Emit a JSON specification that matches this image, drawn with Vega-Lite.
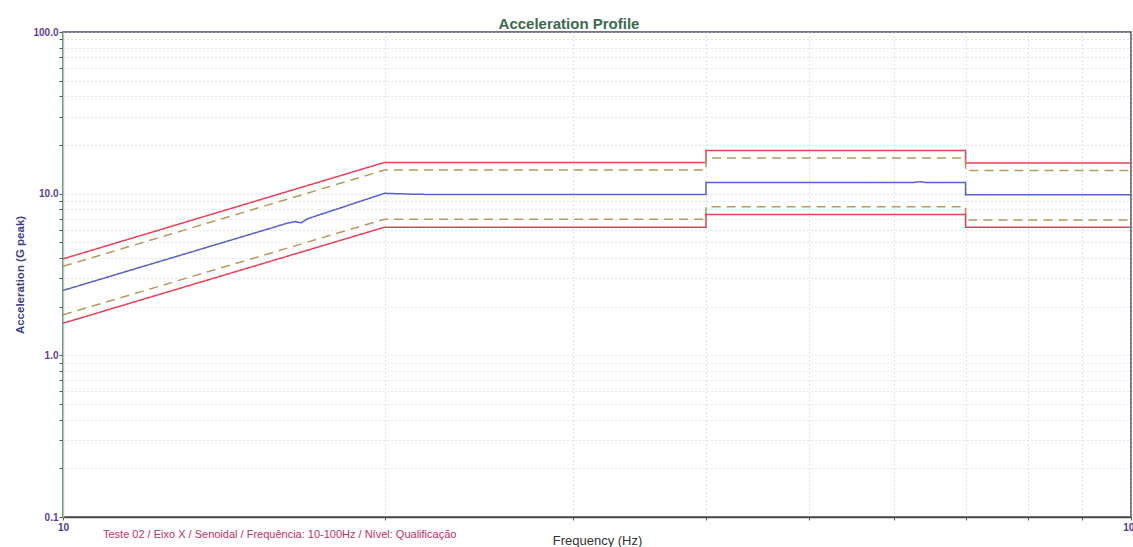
{
  "$schema": "https://vega.github.io/schema/vega-lite/v6.json",
  "width": 1068,
  "height": 485,
  "autosize": {"type": "none"},
  "padding": {"left": 63, "top": 32, "right": 2, "bottom": 30},
  "background": "#ffffff",
  "config": {
    "view": {"stroke": "#4a4a5a", "strokeWidth": 1.5},
    "font": "Liberation Sans"
  },
  "title": {
    "text": "Acceleration Profile",
    "font": "Liberation Sans",
    "fontSize": 15,
    "fontWeight": "bold",
    "color": "#3d6b4f",
    "dx": -28,
    "offset": -5,
    "frame": "group"
  },
  "layer": [
    {
      "data": {
        "values": [
          {"s": "Abort+", "i": 1, "f": 10, "g": 3.95},
          {"s": "Abort+", "i": 2, "f": 20, "g": 15.6},
          {"s": "Abort+", "i": 3, "f": 40, "g": 15.6},
          {"s": "Abort+", "i": 4, "f": 40, "g": 18.5},
          {"s": "Abort+", "i": 5, "f": 70, "g": 18.5},
          {"s": "Abort+", "i": 6, "f": 70, "g": 15.5},
          {"s": "Abort+", "i": 7, "f": 100, "g": 15.5},
          {"s": "Alarm+", "i": 1, "f": 10, "g": 3.55},
          {"s": "Alarm+", "i": 2, "f": 20, "g": 14.0},
          {"s": "Alarm+", "i": 3, "f": 40, "g": 14.0},
          {"s": "Alarm+", "i": 4, "f": 40, "g": 16.6},
          {"s": "Alarm+", "i": 5, "f": 70, "g": 16.6},
          {"s": "Alarm+", "i": 6, "f": 70, "g": 13.9},
          {"s": "Alarm+", "i": 7, "f": 100, "g": 13.9},
          {"s": "Control", "i": 1, "f": 10, "g": 2.52},
          {"s": "Control", "i": 2, "f": 16.2, "g": 6.55},
          {"s": "Control", "i": 3, "f": 16.5, "g": 6.72},
          {"s": "Control", "i": 4, "f": 16.7, "g": 6.6},
          {"s": "Control", "i": 5, "f": 16.95, "g": 7.0},
          {"s": "Control", "i": 6, "f": 20, "g": 10.05},
          {"s": "Control", "i": 7, "f": 21.5, "g": 9.9},
          {"s": "Control", "i": 8, "f": 40, "g": 9.88},
          {"s": "Control", "i": 9, "f": 40, "g": 11.72},
          {"s": "Control", "i": 10, "f": 62.5, "g": 11.72},
          {"s": "Control", "i": 11, "f": 63.4, "g": 11.85},
          {"s": "Control", "i": 12, "f": 64.3, "g": 11.72},
          {"s": "Control", "i": 13, "f": 70, "g": 11.72},
          {"s": "Control", "i": 14, "f": 70, "g": 9.86},
          {"s": "Control", "i": 15, "f": 100, "g": 9.86},
          {"s": "Alarm-", "i": 1, "f": 10, "g": 1.78},
          {"s": "Alarm-", "i": 2, "f": 20, "g": 6.95},
          {"s": "Alarm-", "i": 3, "f": 40, "g": 6.95},
          {"s": "Alarm-", "i": 4, "f": 40, "g": 8.3},
          {"s": "Alarm-", "i": 5, "f": 70, "g": 8.3},
          {"s": "Alarm-", "i": 6, "f": 70, "g": 6.88},
          {"s": "Alarm-", "i": 7, "f": 100, "g": 6.88},
          {"s": "Abort-", "i": 1, "f": 10, "g": 1.58},
          {"s": "Abort-", "i": 2, "f": 20, "g": 6.2},
          {"s": "Abort-", "i": 3, "f": 40, "g": 6.2},
          {"s": "Abort-", "i": 4, "f": 40, "g": 7.42},
          {"s": "Abort-", "i": 5, "f": 70, "g": 7.42},
          {"s": "Abort-", "i": 6, "f": 70, "g": 6.2},
          {"s": "Abort-", "i": 7, "f": 100, "g": 6.2}
        ]
      },
      "mark": {"type": "line", "strokeWidth": 1.5, "clip": true},
      "encoding": {
        "x": {
          "field": "f",
          "type": "quantitative",
          "scale": {"type": "log", "domain": [10, 100], "nice": false},
          "axis": {
            "title": "Frequency (Hz)",
            "values": [10, 20, 30, 40, 50, 60, 70, 80, 90, 100],
            "labelExpr": "datum.value == 10 || datum.value == 100 ? format(datum.value, 'd') : ''",
            "labelOverlap": false,
            "labelFlush": false,
            "labelBound": false,
            "labelFont": "Liberation Sans",
            "labelFontSize": 10,
            "labelFontWeight": "bold",
            "labelColor": "#4a3d8e",
            "labelPadding": 2,
            "tickSize": 3,
            "tickColor": "#555555",
            "domainColor": "#4a4a4a",
            "domainWidth": 1.5,
            "grid": true,
            "gridColor": "#b9c0df",
            "gridDash": [1, 3],
            "gridWidth": 1,
            "titleFont": "Liberation Sans",
            "titleFontSize": 13,
            "titleFontWeight": "normal",
            "titleColor": "#333333",
            "titleBaseline": "top",
            "titleY": 17
          }
        },
        "y": {
          "field": "g",
          "type": "quantitative",
          "scale": {"type": "log", "domain": [0.1, 100], "nice": false},
          "axis": {
            "title": "Acceleration (G peak)",
            "values": [0.1, 0.2, 0.3, 0.4, 0.5, 0.6, 0.7, 0.8, 0.9, 1, 2, 3, 4, 5, 6, 7, 8, 9, 10, 20, 30, 40, 50, 60, 70, 80, 90, 100],
            "labelExpr": "indexof([0.1, 1, 10, 100], datum.value) >= 0 ? format(datum.value, '.1f') : ''",
            "labelOverlap": false,
            "labelFlush": false,
            "labelBound": false,
            "labelFont": "Liberation Sans",
            "labelFontSize": 10,
            "labelFontWeight": "bold",
            "labelColor": "#5a3f9e",
            "labelPadding": 1,
            "tickSize": 4,
            "tickColor": "#555555",
            "domainColor": "#9ed8b0",
            "domainWidth": 1.5,
            "grid": true,
            "gridColor": "#c5cadf",
            "gridDash": [1, 3],
            "gridWidth": 1,
            "titleFont": "Liberation Sans",
            "titleFontSize": 11.5,
            "titleFontWeight": "bold",
            "titleColor": "#3c3f8c",
            "titleBaseline": "bottom",
            "titleX": -38
          }
        },
        "detail": {"field": "s"},
        "order": {"field": "i", "type": "quantitative"},
        "color": {
          "field": "s",
          "type": "nominal",
          "scale": {
            "domain": ["Abort+", "Alarm+", "Control", "Alarm-", "Abort-"],
            "range": ["#e8405a", "#b89a5a", "#5860d0", "#b89a5a", "#e8405a"]
          },
          "legend": null
        },
        "strokeDash": {
          "field": "s",
          "type": "nominal",
          "scale": {
            "domain": ["Abort+", "Alarm+", "Control", "Alarm-", "Abort-"],
            "range": [[1, 0], [9, 6], [1, 0], [9, 6], [1, 0]]
          },
          "legend": null
        }
      }
    },
    {
      "data": {
        "values": [
          {"caption": "Teste 02 / Eixo X / Senoidal / Frequência: 10-100Hz / Nível: Qualificação", "f": 10.9, "g": 0.1}
        ]
      },
      "mark": {
        "type": "text",
        "align": "left",
        "baseline": "middle",
        "dy": 18,
        "font": "Liberation Sans",
        "fontSize": 11,
        "color": "#c2306a",
        "clip": false
      },
      "encoding": {
        "x": {"field": "f", "type": "quantitative"},
        "y": {"field": "g", "type": "quantitative"},
        "text": {"field": "caption"}
      }
    }
  ]
}
